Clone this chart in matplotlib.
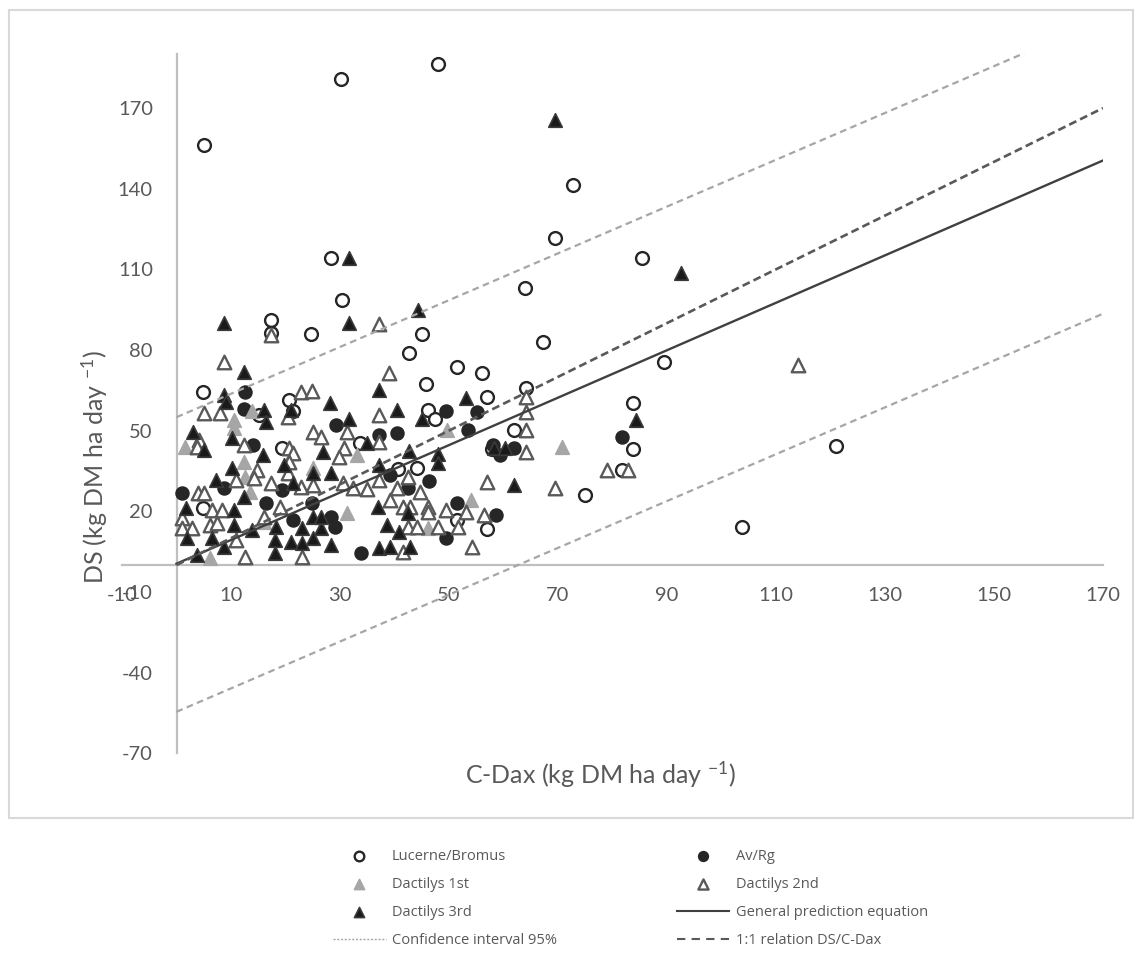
import numpy as np
import matplotlib
matplotlib.use('Agg')
import matplotlib.pyplot as plt
from matplotlib.patches import Rectangle
from matplotlib.lines import Line2D

plt.rcParams['font.family'] = ['Lato', 'DejaVu Sans']
plt.rcParams['axes.unicode_minus'] = False
plt.rcParams['mathtext.fontset'] = 'custom'
plt.rcParams['mathtext.rm'] = 'Lato'
plt.rcParams['mathtext.default'] = 'regular'

# Lucerne/Bromus (open circles)
lucerne_x = [5.1, 30.1, 47.9, 72.8, 69.4, 28.4, 85.5, 63.9, 30.3, 17.4,
             17.4, 24.6, 45.1, 67.3, 42.6, 89.4, 51.4, 56.0, 45.7, 4.8,
             64.2, 56.9, 20.7, 21.3, 83.7, 46.1, 47.5, 15.2, 62.0, 33.6,
             19.4, 57.8, 83.7, 121.1, 81.7, 40.6, 44.2, 74.9, 4.8, 51.4,
             56.9, 103.7]
lucerne_y = [156.3, 180.8, 186.4, 141.4, 121.7, 114.2, 114.2, 103.1, 98.6, 91.1,
             86.3, 85.9, 85.9, 83.0, 78.9, 75.5, 73.7, 71.4, 67.3, 64.4,
             65.8, 62.5, 61.4, 57.3, 60.3, 57.7, 54.3, 55.8, 50.2, 45.4,
             43.5, 43.2, 43.2, 44.3, 35.3, 35.7, 36.1, 26.0, 21.2, 16.7,
             13.4, 14.1]

# Av/Rg (filled circles)
avrg_x = [12.5, 12.3, 14.1, 29.2, 37.1, 40.4, 49.5, 55.2, 53.4, 59.3,
          62.0, 58.0, 81.7, 39.1, 42.4, 46.4, 51.4, 58.7, 49.5, 33.9,
          8.8, 1.1, 19.3, 16.5, 24.8, 21.3, 28.4, 29.0]
avrg_y = [64.4, 58.0, 44.6, 52.1, 48.4, 49.1, 57.3, 56.9, 50.2, 40.9,
          43.5, 44.6, 47.6, 33.5, 28.6, 31.3, 23.1, 18.6, 10.0, 4.5,
          28.6, 26.8, 27.9, 23.1, 23.1, 16.7, 17.9, 14.1]

# Dactilys 1st (grey triangles)
d1_x = [13.8, 10.5, 10.5, 1.5, 12.3, 33.2, 25.0, 12.5, 13.4, 31.2,
        6.1, 49.7, 54.1, 46.1, 70.8, 16.1]
d1_y = [57.3, 53.9, 51.0, 43.9, 38.3, 40.9, 36.1, 32.7, 27.2, 19.3,
        2.6, 50.2, 24.2, 13.8, 43.9, 16.0]

# Dactilys 2nd (open triangles)
d2_x = [17.4, 37.2, 8.8, 38.9, 22.9, 24.8, 5.1, 7.9, 20.4, 37.2,
        64.2, 64.2, 64.2, 64.2, 25.0, 26.6, 31.2, 4.2, 3.7, 12.3,
        20.6, 21.3, 30.8, 29.9, 37.2, 14.7, 20.7, 17.4, 20.4, 22.9,
        25.0, 30.5, 32.3, 3.9, 5.1, 6.6, 8.3, 1.1, 1.1, 2.9,
        6.1, 7.5, 11.0, 12.5, 16.1, 18.9, 23.1, 11.0, 34.9, 37.2,
        39.1, 40.4, 42.4, 44.6, 56.9, 69.4, 41.5, 42.8, 46.1, 46.1,
        49.5, 53.2, 56.5, 42.4, 44.2, 47.9, 51.6, 54.3, 41.5, 78.9,
        82.8, 114.1, 14.3]
d2_y = [85.6, 89.7, 75.5, 71.4, 64.4, 64.7, 56.5, 56.5, 55.1, 55.8,
        62.5, 56.9, 50.2, 42.0, 49.5, 47.6, 49.5, 46.5, 43.9, 44.6,
        43.5, 41.7, 43.5, 40.2, 45.8, 35.3, 38.3, 30.5, 34.2, 29.0,
        29.8, 30.5, 28.6, 26.8, 26.8, 20.5, 20.5, 17.5, 13.8, 13.8,
        14.9, 15.6, 9.3, 3.0, 17.9, 21.6, 3.0, 31.6, 28.3, 31.6,
        24.2, 28.6, 32.7, 27.2, 30.9, 28.6, 21.6, 21.6, 21.6, 19.7,
        20.5, 19.7, 18.6, 14.1, 14.1, 14.1, 14.1, 6.7, 4.8, 35.3,
        35.3, 74.4, 32.4]

# Dactilys 3rd (black triangles)
d3_x = [69.5, 31.7, 92.5, 44.4, 8.8, 31.7, 12.3, 37.2, 8.8, 9.0,
        21.1, 16.1, 16.5, 28.1, 31.7, 40.4, 53.2, 45.0, 84.4, 3.1,
        10.1, 5.1, 15.8, 26.8, 34.9, 42.6, 47.9, 47.9, 58.3, 60.2,
        10.1, 19.8, 25.0, 28.4, 37.1, 7.3, 21.3, 12.3, 62.0, 1.8,
        10.6, 36.9, 42.4, 10.6, 13.9, 18.3, 23.1, 26.6, 25.0, 2.0,
        6.6, 18.0, 21.1, 23.1, 25.0, 8.8, 28.4, 37.2, 39.1, 42.8,
        3.7, 18.0, 38.7, 40.9, 26.6]
d3_y = [165.6, 114.2, 108.6, 94.9, 90.0, 90.0, 71.8, 65.1, 63.2, 60.6,
        57.7, 57.7, 53.2, 60.3, 54.3, 57.7, 62.1, 54.3, 53.9, 49.5,
        47.2, 42.8, 40.9, 42.0, 45.4, 42.4, 41.3, 37.9, 43.5, 43.5,
        36.1, 37.2, 34.2, 34.2, 37.2, 31.6, 30.5, 25.3, 29.8, 21.2,
        20.5, 21.6, 19.3, 14.9, 13.0, 14.1, 13.8, 13.8, 17.9, 10.0,
        10.0, 9.3, 8.6, 8.2, 10.0, 6.7, 7.4, 6.3, 6.7, 6.7,
        3.7, 4.5, 14.9, 12.3, 17.9]

# lines
line_x = [0, 170]
fit_y = [0.5, 150.5]
ci_upper = [55.0, 203.0]
ci_lower = [-54.6, 93.5]
one_to_one = [0, 170]

fig = plt.figure(figsize=(11.43, 9.6), dpi=100)
ax = fig.add_axes([122 / 1143, 1 - 753.2 / 960, (1103 - 122) / 1143, (753.2 - 54.3) / 960])

lb = ax.scatter(lucerne_x, lucerne_y, marker='o', s=85, facecolor='white',
                edgecolor='#262626', linewidths=1.7, zorder=3)
av = ax.scatter(avrg_x, avrg_y, marker='o', s=85, facecolor='#262626',
                edgecolor='#262626', linewidths=1.2, zorder=3.1)
p1 = ax.scatter(d1_x, d1_y, marker='^', s=95, facecolor='#a6a6a6',
                edgecolor='#a6a6a6', linewidths=1.2, zorder=3.2)
p2 = ax.scatter(d2_x, d2_y, marker='^', s=95, facecolor='white',
                edgecolor='#595959', linewidths=1.7, zorder=3.3)
p3 = ax.scatter(d3_x, d3_y, marker='^', s=95, facecolor='#1a1a1a',
                edgecolor='#3a3a3a', linewidths=1.2, zorder=3.4)

ax.plot(line_x, fit_y, color='#404040', lw=1.7, zorder=4)
ax.plot(line_x, ci_upper, color='#a6a6a6', lw=1.6, ls=(0, (3, 2)), zorder=4)
ax.plot(line_x, ci_lower, color='#a6a6a6', lw=1.6, ls=(0, (3, 2)), zorder=4)
ax.plot(line_x, one_to_one, color='#595959', lw=1.9, ls=(0, (3, 1.6)), zorder=4)

ax.set_xlim(-10, 170)
ax.set_ylim(-70, 190)
ax.spines['left'].set_position(('data', 0))
ax.spines['bottom'].set_position(('data', 0))
ax.spines['top'].set_visible(False)
ax.spines['right'].set_visible(False)
for s in ['left', 'bottom']:
    ax.spines[s].set_color('#bfbfbf')
    ax.spines[s].set_linewidth(1.6)
ax.set_xticks(np.arange(-10, 171, 20))
ax.set_yticks(np.arange(-70, 171, 30))
ax.tick_params(length=0, labelsize=14.5, labelcolor='#595959')
ax.tick_params(axis='x', pad=16)
ax.tick_params(axis='y', pad=17)

fig.text(600 / 1143, 1 - 775 / 960, 'C-Dax (kg DM ha day $^{-1}$)', ha='center', va='center',
         fontsize=18, color='#595959')
fig.text(95 / 1143, 1 - 467 / 960, 'DS (kg DM ha day $^{-1}$)', ha='center', va='center',
         rotation=90, fontsize=18, color='#595959')

fig.add_artist(Rectangle((9 / 1143, 1 - 818 / 960), (1133 - 9) / 1143, (818 - 10) / 960,
                         transform=fig.transFigure, fill=False, ec='#d9d9d9', lw=1.5))

# legend handles drawn the way the legend shows them
gen_h = Line2D([], [], color='#404040', lw=1.5)
ci_h = Line2D([], [], color='#a6a6a6', lw=1.0, ls=(0, (1.5, 1.2)))
one_h = Line2D([], [], color='#595959', lw=1.5, ls=(0, (4, 3)))

handles = [lb, p1, p3, ci_h, av, p2, gen_h, one_h]
labels = ['Lucerne/Bromus', 'Dactilys 1st', 'Dactilys 3rd', 'Confidence interval 95%',
          'Av/Rg', 'Dactilys 2nd', 'General prediction equation', '1:1 relation DS/C-Dax']
ax.legend(handles, labels, ncol=2, loc='upper left',
          bbox_to_anchor=(333 / 1143, 1 - 849 / 960), bbox_transform=fig.transFigure,
          frameon=False, prop={'family': 'Open Sans', 'size': 10.5}, labelcolor='#595959',
          handlelength=3.6, handletextpad=0.45, columnspacing=8.2, labelspacing=0.9,
          borderpad=0, borderaxespad=0, markerscale=0.75)

fig.savefig('out.png', dpi=100)
